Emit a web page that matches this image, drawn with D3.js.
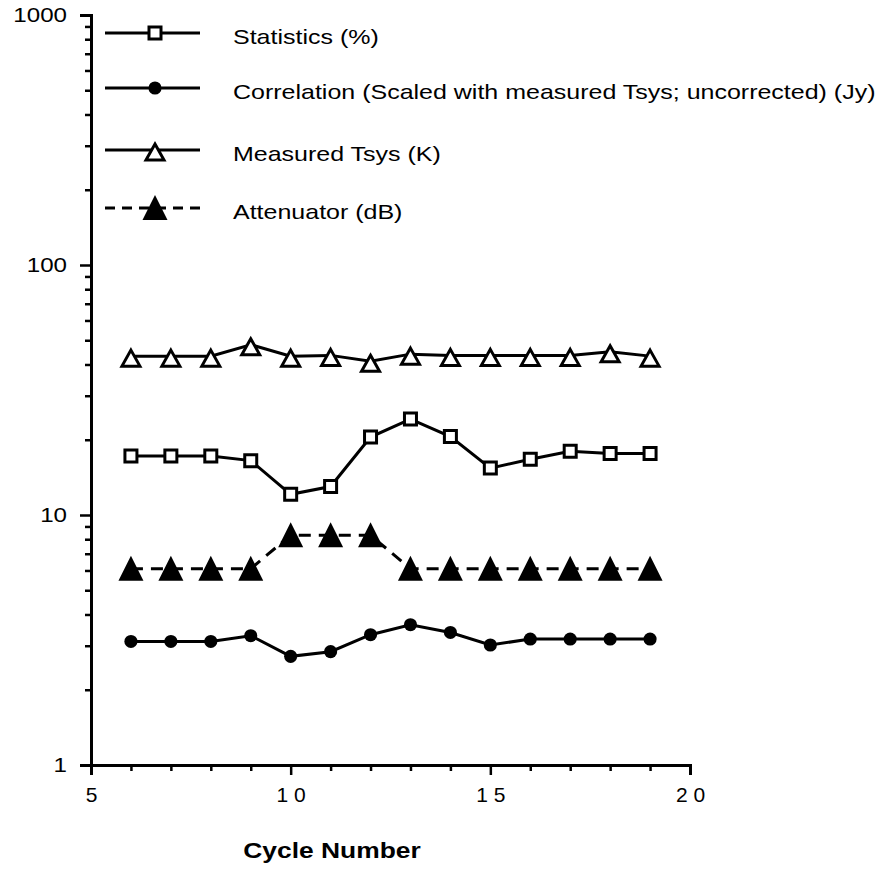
<!DOCTYPE html>
<html>
<head>
<meta charset="utf-8">
<script src="https://cdn.jsdelivr.net/npm/d3@7"></script>
<style>
  body { margin: 0; background: #fff; }
  text { font-family: "Liberation Sans", Arial, sans-serif; fill: #000; }
</style>
</head>
<body>
<div id="canvas"></div>
<script>
"use strict"

// cycle numbers on the x axis
let cycles = [6, 7, 8, 9, 10, 11, 12, 13, 14, 15, 16, 17, 18, 19]

// series values
let statistics = [17.2, 17.2, 17.2, 16.5, 12.1, 13.0, 20.5, 24.2, 20.6, 15.4, 16.7, 18.0, 17.6, 17.6]
let correlation = [3.12, 3.12, 3.12, 3.29, 2.72, 2.84, 3.32, 3.64, 3.39, 3.02, 3.19, 3.19, 3.19, 3.19]
let tsys = [43.2, 43.2, 43.2, 48.0, 43.2, 43.5, 41.2, 44.0, 43.5, 43.5, 43.5, 43.5, 45.0, 43.2]
let attenuator = [6.1, 6.1, 6.1, 6.1, 8.3, 8.3, 8.3, 6.1, 6.1, 6.1, 6.1, 6.1, 6.1, 6.1]

let legendLabels = [
    "Statistics (%)",
    "Correlation (Scaled with measured Tsys; uncorrected) (Jy)",
    "Measured Tsys (K)",
    "Attenuator (dB)"
]

let xMajorTicks = [5, 10, 15, 20]
let yMajorTicks = [1, 10, 100, 1000]
let xTitle = "Cycle Number"

let drawing = d3.select("#canvas")
    .append("svg")
    .attr("width", 889)
    .attr("height", 871)

let x = d3.scaleLinear().domain([5, 20]).range([91, 690])
let y = d3.scaleLog().domain([1, 1000]).range([765, 15])

// the scanned lettering is wider than the font, so stretch it sideways
let stretch = 1.19

// minor ticks: every integer on x, 2..9 per decade on y
let xMinorTicks = d3.range(5, 21).filter(v => xMajorTicks.indexOf(v) < 0)
let yMinorTicks = []
yMajorTicks.slice(0, 3).forEach(d => {
    for (let k = 2; k <= 9; k++) yMinorTicks.push(d * k)
})

// axes
let xMinor = drawing.append("g")
    .attr("transform", "translate(0,765)")
    .call(d3.axisBottom(x).tickValues(xMinorTicks).tickSize(6).tickFormat(""))
let xMajor = drawing.append("g")
    .attr("transform", "translate(0,765)")
    .call(d3.axisBottom(x).tickValues(xMajorTicks).tickSize(10).tickPadding(12)
        .tickFormat(d => String(d).split("").join(" ")))
let yMinor = drawing.append("g")
    .attr("transform", "translate(91,0)")
    .call(d3.axisLeft(y).tickValues(yMinorTicks).tickSize(6).tickFormat(""))
let yMajor = drawing.append("g")
    .attr("transform", "translate(91,0)")
    .call(d3.axisLeft(y).tickValues(yMajorTicks).tickSize(11).tickPadding(12)
        .tickFormat(d3.format("d")))

drawing.selectAll(".domain").attr("stroke", "#000").attr("stroke-width", 3)
drawing.selectAll(".tick line").attr("stroke", "#000").attr("stroke-width", 2.5)
drawing.selectAll(".tick text")
    .style("font-family", "'Liberation Sans', Arial, sans-serif")
    .attr("font-size", 21)
    .attr("fill", "#000")
yMajor.selectAll(".tick text")
    .attr("x", -24 / 1.15)
    .attr("transform", "scale(1.15,1)")

let xLabel = drawing.append("text")
    .attr("transform", "translate(332,858) scale(1.2,1)")
    .attr("text-anchor", "middle")
    .attr("font-size", 22)
    .attr("font-weight", "bold")
    .text(xTitle)

// marker shapes
function triangle(w, top, bottom) {
    return "M0," + (-top) + "L" + (w / 2) + "," + bottom + "L" + (-w / 2) + "," + bottom + "Z"
}
let shapes = {
    square: "M-6,-6H6V6H-6Z",
    circle: d3.symbol(d3.symbolCircle, 135)(),
    openTri: triangle(18, 6, 10),
    solidTri: triangle(25, 13, 12)
}

let series = [
    { values: statistics, shape: "square", fill: "#fff", dash: null },
    { values: correlation, shape: "circle", fill: "#000", dash: null },
    { values: tsys, shape: "openTri", fill: "#fff", dash: null },
    { values: attenuator, shape: "solidTri", fill: "#000", dash: "12,8" }
]

let line = d3.line()
    .x((d, i) => x(cycles[i]))
    .y(d => y(d))

series.forEach(s => {
    drawing.append("path")
        .attr("d", line(s.values))
        .attr("fill", "none")
        .attr("stroke", "#000")
        .attr("stroke-width", 3)
        .attr("stroke-dasharray", s.dash)

    drawing.selectAll(null)
        .data(s.values)
        .enter()
        .append("path")
        .attr("d", shapes[s.shape])
        .attr("transform", (d, i) => "translate(" + x(cycles[i]) + "," + y(d) + ")")
        .attr("fill", s.fill)
        .attr("stroke", "#000")
        .attr("stroke-width", s.fill === "#fff" ? 3 : 0)
})

// legend
let legendRows = [33, 88, 150, 208]
series.forEach((s, i) => {
    let g = drawing.append("g").attr("transform", "translate(0," + legendRows[i] + ")")
    g.append("line")
        .attr("x1", 105).attr("x2", 200)
        .attr("stroke", "#000")
        .attr("stroke-width", 3)
        .attr("stroke-dasharray", s.dash ? "10,7" : null)
    g.append("path")
        .attr("d", shapes[s.shape])
        .attr("transform", "translate(155,0)")
        .attr("fill", s.fill)
        .attr("stroke", "#000")
        .attr("stroke-width", s.fill === "#fff" ? 3 : 0)
    g.append("text")
        .attr("transform", "translate(233,10.5) scale(" + stretch + ",1)")
        .attr("font-size", 21)
        .text(legendLabels[i])
})
</script>
</body>
</html>
